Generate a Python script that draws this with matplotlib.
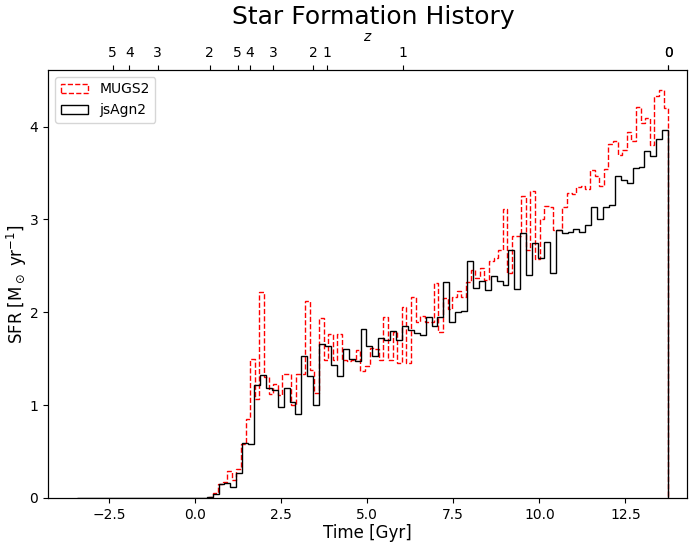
import numpy as np
import matplotlib
matplotlib.use('Agg')
from matplotlib import pyplot as plt

# bin ranges (Gyr) of the two step histograms, 100 bins each
mugs_range = (0.40, 13.74)
agn_range = (-3.44, 13.74)

# SFR per bin [Msun / yr]
mugs_sfr = [0.014, 0.05, 0.15, 0.17, 0.29, 0.19, 0.31, 0.58, 0.85, 1.50,
            1.07, 2.22, 1.30, 1.12, 1.23, 1.11, 1.33, 1.33, 1.00, 1.33,
            1.33, 2.12, 1.38, 1.13, 1.94, 1.49, 1.77, 1.49, 1.77, 1.49,
            1.47, 1.49, 1.59, 1.37, 1.42, 1.61, 1.60, 1.49, 1.95, 1.49,
            1.79, 1.45, 2.06, 1.45, 2.17, 1.90, 1.96, 1.89, 1.90, 2.32,
            1.79, 2.15, 2.04, 2.17, 2.23, 2.17, 2.33, 2.46, 2.37, 2.48,
            2.35, 2.55, 2.59, 2.67, 3.11, 2.42, 2.82, 2.82, 3.25, 2.67,
            3.31, 2.57, 3.00, 3.15, 3.13, 2.89, 2.89, 3.13, 3.28, 3.27,
            3.35, 3.36, 3.33, 3.53, 3.47, 3.36, 3.54, 3.81, 3.84, 3.69,
            3.75, 3.94, 3.84, 4.21, 4.04, 4.09, 3.80, 4.33, 4.39, 4.20]

agn_sfr = [0, 0, 0, 0, 0, 0, 0, 0, 0, 0,
           0, 0, 0, 0, 0, 0, 0, 0, 0, 0,
           0, 0, 0.01, 0.04, 0.15, 0.16, 0.12, 0.27, 0.59, 0.58,
           1.22, 1.32, 1.18, 1.16, 0.98, 1.18, 1.03, 0.90, 1.53, 1.31,
           1.00, 1.66, 1.64, 1.43, 1.31, 1.60, 1.50, 1.48, 1.82, 1.64,
           1.53, 1.72, 1.70, 1.80, 1.70, 1.85, 1.81, 1.78, 1.75, 1.95,
           1.85, 1.95, 2.33, 1.90, 2.00, 2.01, 2.55, 2.26, 2.34, 2.24,
           2.39, 2.34, 2.29, 2.67, 2.25, 2.85, 2.40, 2.75, 2.58, 2.76,
           2.42, 2.89, 2.85, 2.87, 2.90, 2.86, 2.94, 3.13, 3.01, 3.13,
           3.16, 3.47, 3.43, 3.39, 3.55, 3.57, 3.74, 3.68, 3.87, 3.96]

# redshift axis on top (positions in Gyr, as drawn)
z_pos = [-2.39, -1.91, -1.09, 0.43, 1.24, 1.60, 2.26, 3.43, 3.82, 6.05, 13.74, 13.74]
z_lab = ['5', '4', '3', '2', '5', '4', '3', '2', '1', '1', '0', '0']

fig = plt.figure(figsize=(6.89, 5.44), dpi=100)
ax = fig.add_axes([0.0697, 0.0846, 0.928, 0.7868])

mugs_edges = np.linspace(mugs_range[0], mugs_range[1], len(mugs_sfr) + 1)
agn_edges = np.linspace(agn_range[0], agn_range[1], len(agn_sfr) + 1)

ax.hist(0.5 * (mugs_edges[1:] + mugs_edges[:-1]), bins=mugs_edges, weights=mugs_sfr,
        histtype='step', color='r', linestyle='--', linewidth=1.0, label='MUGS2')
ax.hist(0.5 * (agn_edges[1:] + agn_edges[:-1]), bins=agn_edges, weights=agn_sfr,
        histtype='step', color='k', linewidth=1.0, label='jsAgn2')

ax.set_xlim(-4.27, 14.30)
ax.set_ylim(0, 4.61)
ax.set_xticks([-2.5, 0.0, 2.5, 5.0, 7.5, 10.0, 12.5])
ax.set_yticks([0, 1, 2, 3, 4])
ax.set_xlabel('Time [Gyr]', fontsize=12, labelpad=2)
ax.set_ylabel(r'SFR [M$_\odot$ yr$^{-1}$]', fontsize=12, labelpad=0)
ax.legend(loc='upper left', fontsize=10)

top = ax.twiny()
top.set_xlim(ax.get_xlim())
top.set_xticks(z_pos)
top.set_xticklabels(z_lab)
top.set_xlabel('$z$')

# title goes above the twin axis labels
fig.text(0.542, 0.968, 'Star Formation History', fontsize=18, ha='center', va='center')

fig.savefig('out.png', dpi=100)
